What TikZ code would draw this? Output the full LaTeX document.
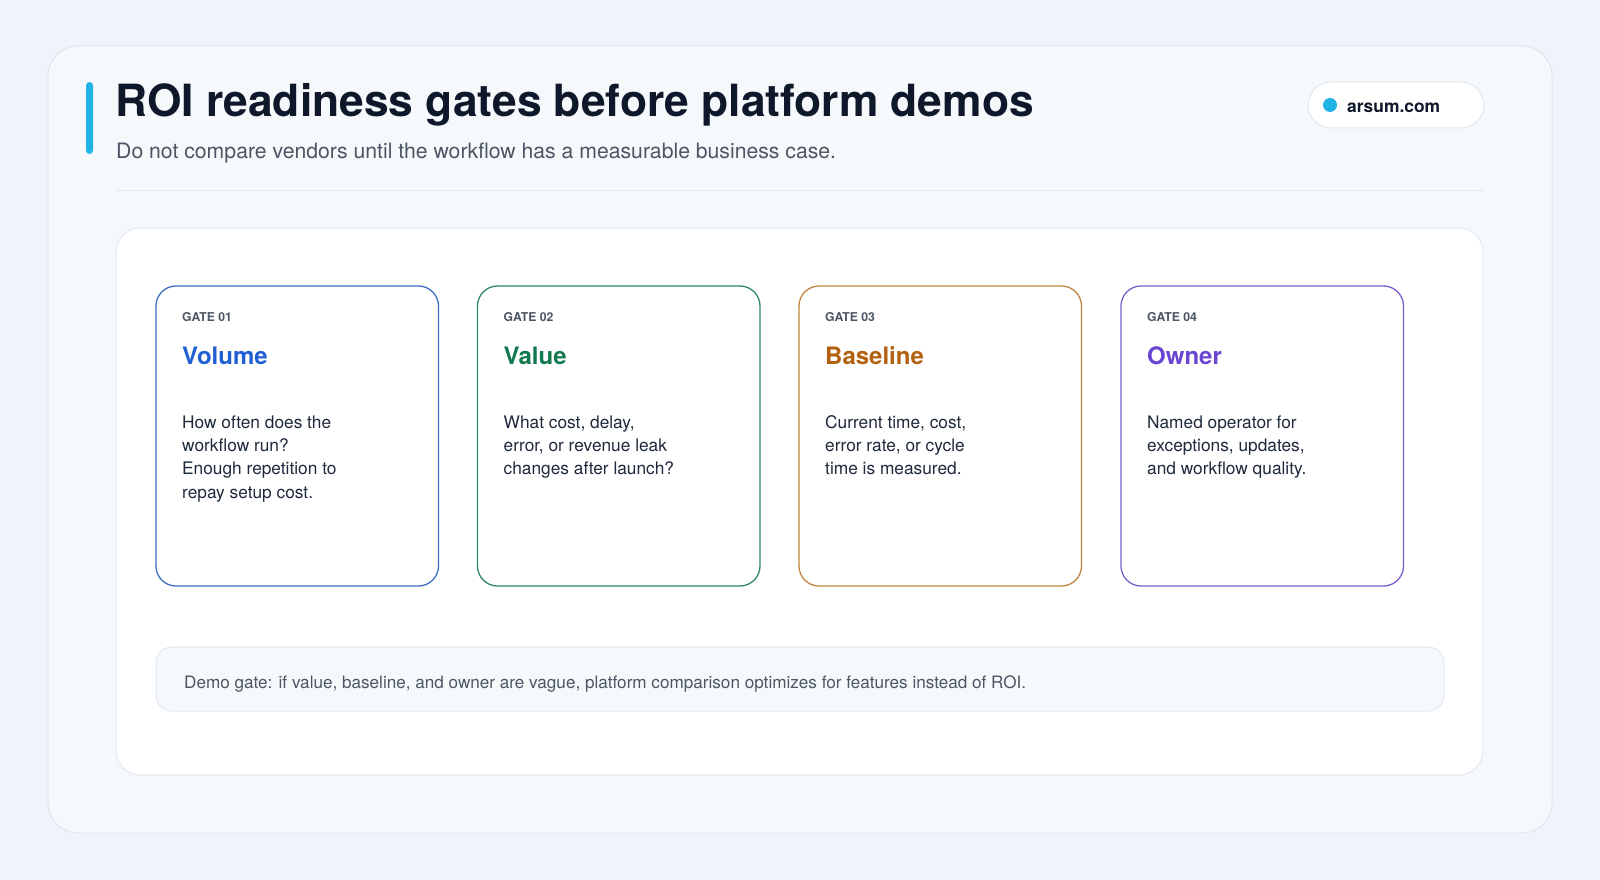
\documentclass[tikz,border=0pt]{standalone}
\usepackage{fontspec}
\setmainfont{TeX Gyre Heros}
\definecolor{pagebg}{HTML}{EEF4FA}
\definecolor{outerfill}{HTML}{F5F9FC}
\definecolor{outerline}{HTML}{DDE6EF}
\definecolor{panelline}{HTML}{E2E9F1}
\definecolor{accent}{HTML}{22B3E6}
\definecolor{titlecol}{HTML}{0F172A}
\definecolor{subcol}{HTML}{4B5563}
\definecolor{labelcol}{HTML}{4B5563}
\definecolor{bodycol}{HTML}{1E293B}
\definecolor{cblue}{HTML}{1F5FD4}
\definecolor{cgreen}{HTML}{12794F}
\definecolor{corange}{HTML}{B4610F}
\definecolor{cpurple}{HTML}{6A45D4}
\definecolor{bblue}{HTML}{3D6FC2}
\definecolor{bgreen}{HTML}{2E8A62}
\definecolor{borange}{HTML}{C08540}
\definecolor{bpurple}{HTML}{7C5FCC}
\tikzset{
  gatecard/.style={draw=#1, line width=1.3pt, fill=white, rounded corners=20pt},
  gatelabel/.style={anchor=base west, inner sep=0pt, text=labelcol, font=\fontsize{12.2}{14}\selectfont\bfseries},
  gatetitle/.style={anchor=base west, inner sep=0pt, text=#1, font=\fontsize{24}{28}\selectfont\bfseries},
  gatebody/.style={anchor=base west, inner sep=0pt, text=bodycol, align=left, font=\fontsize{17.3}{23.1}\selectfont},
}
\begin{document}
\begin{tikzpicture}[x=1pt,y=-1pt]
\useasboundingbox (0,0) rectangle (1600,880);
\fill[pagebg] (0,0) rectangle (1600,880);
% outer card
\draw[outerline, fill=outerfill, line width=1pt, rounded corners=30pt] (48,46) rectangle (1552,833);
% accent bar
\fill[accent, rounded corners=3.5pt] (86,82) rectangle (93,154);
\node[anchor=base west, inner sep=0pt, text=titlecol, font=\fontsize{44.35}{50}\selectfont\bfseries] (title) at (115,117) {ROI readiness gates before platform demos};
\node[anchor=base west, inner sep=0pt, text=subcol, font=\fontsize{21.2}{24}\selectfont] (subtitle) at (116,158) {Do not compare vendors until the workflow has a measurable business case.};
\draw[panelline, line width=1pt] (116,190) -- (1483,190);
% pill
\draw[panelline, fill=white, line width=1pt, rounded corners=23pt] (1308,82) rectangle (1484,128);
\fill[accent] (1330,105) circle (7);
\node[anchor=base west, inner sep=0pt, text=titlecol, font=\fontsize{17.4}{20}\selectfont\bfseries] (pill) at (1347,112.5) {arsum.com};
% inner panel
\draw[panelline, fill=white, line width=1pt, rounded corners=24pt] (116,228) rectangle (1483,775);
% cards
\foreach \x/\bc/\tc/\num/\ttl/\by/\body in {
  156/bblue/cblue/01/Volume/498/{How often does the\\workflow run?\\Enough repetition to\\repay setup cost.},
  477.5/bgreen/cgreen/02/Value/474.9/{What cost, delay,\\error, or revenue leak\\changes after launch?},
  799/borange/corange/03/Baseline/474.9/{Current time, cost,\\error rate, or cycle\\time is measured.},
  1121/bpurple/cpurple/04/Owner/474.9/{Named operator for\\exceptions, updates,\\and workflow quality.}}{
  \draw[gatecard=\bc] (\x,286) rectangle ++(282.5,300);
  \node[gatelabel] (lab\num) at (\x+26,321.5) {GATE \num};
  \node[gatetitle=\tc] (ttl\num) at (\x+26,364) {\ttl};
  \node[gatebody] (body\num) at (\x+26,\by) {\body};
}
% demo box
\draw[panelline, fill=outerfill, line width=1pt, rounded corners=16pt] (156,647) rectangle (1444,711);
\node[anchor=base west, inner sep=0pt, text=subcol, font=\fontsize{17.12}{20}\selectfont] (demo) at (184,688.5) {Demo gate: if value, baseline, and owner are vague, platform comparison optimizes for features instead of ROI.};
\end{tikzpicture}
\end{document}
